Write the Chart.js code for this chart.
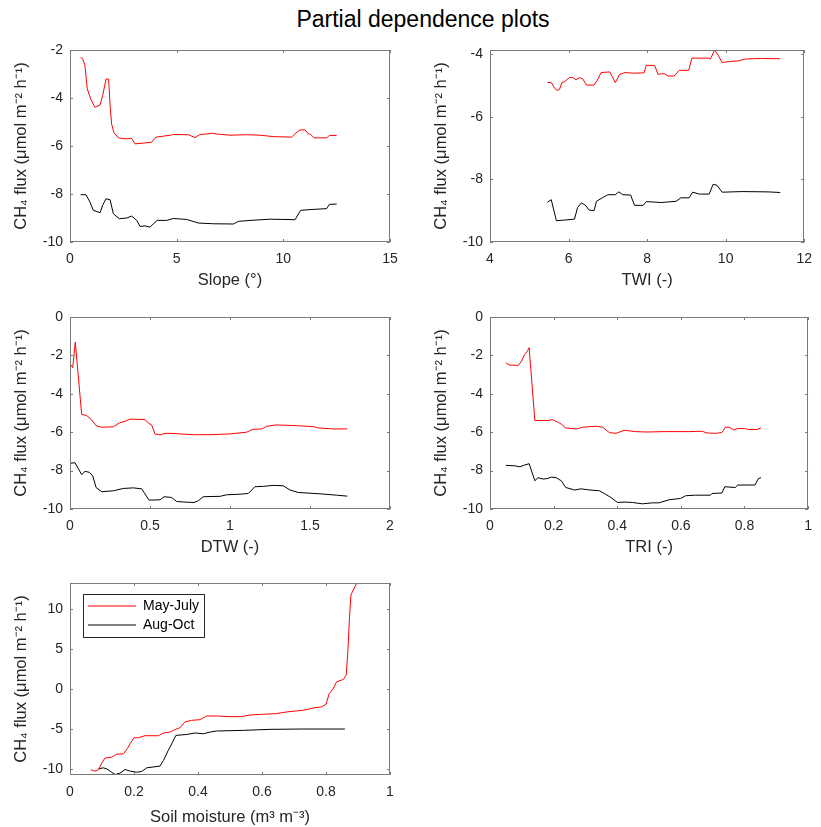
<!DOCTYPE html>
<html><head><meta charset="utf-8">
<script src="https://cdn.jsdelivr.net/npm/chart.js@4.4.1/dist/chart.umd.min.js"></script>
<style>
html,body{margin:0;padding:0;background:#fff;}
#fig{position:relative;width:821px;height:827px;overflow:hidden;background:#fff;font-family:"Liberation Sans",Arial,sans-serif;}
#title{position:absolute;left:0;width:846px;top:6px;text-align:center;font-size:23px;color:#000;}
canvas{position:absolute;}
</style></head><body>
<div id="fig">
<div id="title">Partial dependence plots</div>
<canvas id="c1" width="410" height="272" style="left:0px;top:30px;width:410px;height:272px"></canvas>
<canvas id="c2" width="401" height="272" style="left:420px;top:30px;width:401px;height:272px"></canvas>
<canvas id="c3" width="410" height="272" style="left:0px;top:297px;width:410px;height:272px"></canvas>
<canvas id="c4" width="401" height="272" style="left:420px;top:297px;width:401px;height:272px"></canvas>
<canvas id="c5" width="410" height="272" style="left:0px;top:563px;width:410px;height:272px"></canvas>
</div>
<script>
// ---------- data ----------
const seriesNames = ['May-July', 'Aug-Oct'];
const yAxisTitle = 'CH\u2084 flux (\u03BCmol m\u207B\u00B2 h\u207B\u00B9)';

// Slope
const slopeMayJulyX = [0.50,0.59,0.70,0.81,0.97,1.17,1.41,1.53,1.69,1.81,1.88,1.95,2.06,2.27,2.58,2.89,3.05,3.44,3.83,4.03,4.38,4.77,4.84,5.55,5.86,6.09,6.41,6.69,6.88,7.50,8.28,8.91,9.53,10.39,10.55,10.78,11.02,11.17,11.28,11.44,12.03,12.16,12.50];
const slopeMayJulyY = [-2.31,-2.35,-2.65,-3.62,-4.04,-4.39,-4.29,-3.90,-3.21,-3.21,-4.32,-5.08,-5.45,-5.66,-5.70,-5.69,-5.91,-5.88,-5.84,-5.63,-5.59,-5.54,-5.52,-5.53,-5.65,-5.52,-5.50,-5.47,-5.50,-5.55,-5.53,-5.55,-5.61,-5.63,-5.49,-5.33,-5.33,-5.49,-5.52,-5.66,-5.66,-5.56,-5.56];
const slopeAugOctX = [0.50,0.75,0.94,1.09,1.41,1.53,1.69,1.88,2.03,2.31,2.66,2.89,3.13,3.28,3.52,3.75,3.91,4.09,4.53,4.84,5.47,6.02,6.72,7.66,7.89,8.44,9.38,10.55,10.81,11.25,12.03,12.16,12.50];
const slopeAugOctY = [-8.03,-8.03,-8.34,-8.68,-8.78,-8.47,-8.20,-8.24,-8.82,-9.03,-9.00,-8.92,-9.10,-9.35,-9.33,-9.38,-9.24,-9.10,-9.10,-9.02,-9.06,-9.21,-9.24,-9.25,-9.14,-9.10,-9.05,-9.07,-8.68,-8.65,-8.61,-8.43,-8.42];
const slopeTicks = [0,5,10,15];
const slopeFluxTicks = [-10,-8,-6,-4,-2];
const slopeFluxRange = [-10,-2];

// TWI
const twiMayJulyX = [5.46,5.56,5.65,5.71,5.77,5.83,5.90,6.02,6.11,6.19,6.27,6.36,6.46,6.65,6.73,6.83,7.05,7.19,7.30,7.44,7.65,7.92,7.98,8.19,8.28,8.36,8.44,8.53,8.69,8.82,9.06,9.14,9.57,9.61,9.72,9.82,9.91,10.07,10.32,10.49,10.91,11.39];
const twiMayJulyY = [-4.91,-4.91,-5.10,-5.16,-5.13,-4.91,-4.88,-4.75,-4.75,-4.82,-4.75,-4.79,-4.99,-4.99,-4.84,-4.59,-4.57,-4.91,-4.65,-4.59,-4.61,-4.60,-4.36,-4.36,-4.65,-4.63,-4.63,-4.70,-4.70,-4.52,-4.52,-4.13,-4.13,-4.16,-3.87,-4.06,-4.27,-4.24,-4.22,-4.16,-4.14,-4.15];
const twiAugOctX = [5.46,5.56,5.69,5.90,6.15,6.23,6.33,6.44,6.52,6.65,6.71,6.86,7.00,7.19,7.28,7.38,7.58,7.68,7.90,7.98,8.36,8.74,8.86,9.07,9.16,9.33,9.58,9.68,9.78,9.91,10.41,11.08,11.39];
const twiAugOctY = [-8.73,-8.65,-9.32,-9.30,-9.27,-8.90,-8.75,-8.84,-8.98,-9.00,-8.70,-8.59,-8.49,-8.49,-8.40,-8.49,-8.50,-8.83,-8.83,-8.71,-8.74,-8.70,-8.59,-8.59,-8.41,-8.47,-8.47,-8.16,-8.19,-8.41,-8.39,-8.40,-8.42];
const twiTicks = [4,6,8,10,12];
const twiFluxTicks = [-10,-8,-6,-4];
const twiFluxRange = [-10,-3.87];

// DTW
const dtwMayJulyX = [0,0.017,0.033,0.073,0.104,0.135,0.163,0.198,0.271,0.308,0.344,0.375,0.469,0.490,0.510,0.531,0.563,0.594,0.625,0.688,0.771,0.875,1.0,1.104,1.142,1.198,1.229,1.29,1.417,1.521,1.552,1.646,1.733];
const dtwMayJulyY = [-2.43,-2.64,-1.31,-5.08,-5.13,-5.36,-5.66,-5.74,-5.72,-5.52,-5.43,-5.32,-5.34,-5.53,-5.62,-6.09,-6.14,-6.06,-6.06,-6.09,-6.13,-6.13,-6.09,-6.00,-5.85,-5.83,-5.69,-5.62,-5.66,-5.71,-5.78,-5.83,-5.83];
const dtwAugOctX = [0,0.031,0.073,0.094,0.121,0.142,0.163,0.198,0.271,0.333,0.396,0.448,0.469,0.494,0.563,0.588,0.635,0.667,0.719,0.775,0.802,0.833,0.938,0.979,1.063,1.115,1.156,1.208,1.271,1.333,1.375,1.427,1.563,1.667,1.733];
const dtwAugOctY = [-7.62,-7.59,-8.21,-8.04,-8.09,-8.27,-8.88,-9.10,-9.05,-8.93,-8.90,-8.95,-9.22,-9.54,-9.52,-9.36,-9.40,-9.61,-9.64,-9.66,-9.57,-9.36,-9.34,-9.26,-9.23,-9.19,-8.84,-8.82,-8.77,-8.79,-9.01,-9.14,-9.21,-9.28,-9.33];
const dtwTicks = [0,0.5,1,1.5,2];
const dtwFluxTicks = [-10,-8,-6,-4,-2,0];
const dtwFluxRange = [-10,0];

// TRI
const triMayJulyX = [0.050,0.060,0.089,0.099,0.109,0.117,0.123,0.141,0.182,0.196,0.214,0.224,0.238,0.271,0.292,0.333,0.354,0.375,0.396,0.422,0.458,0.490,0.552,0.625,0.667,0.682,0.708,0.729,0.740,0.752,0.766,0.779,0.800,0.813,0.839,0.852];
const triMayJulyY = [-2.38,-2.50,-2.52,-2.30,-1.95,-1.79,-1.60,-5.39,-5.39,-5.34,-5.48,-5.58,-5.78,-5.83,-5.74,-5.69,-5.74,-6.02,-6.06,-5.90,-5.97,-5.99,-5.97,-5.97,-5.95,-6.04,-6.06,-6.02,-5.74,-5.74,-5.88,-5.81,-5.81,-5.86,-5.86,-5.78];
const triAugOctX = [0.050,0.078,0.094,0.109,0.123,0.141,0.151,0.167,0.182,0.193,0.208,0.224,0.238,0.266,0.286,0.313,0.344,0.359,0.380,0.401,0.422,0.448,0.479,0.510,0.531,0.563,0.599,0.615,0.646,0.693,0.698,0.729,0.738,0.771,0.779,0.833,0.844,0.852];
const triAugOctY = [-7.73,-7.75,-7.80,-7.71,-7.64,-8.53,-8.37,-8.44,-8.41,-8.34,-8.37,-8.53,-8.88,-9.01,-8.95,-9.01,-9.05,-9.19,-9.40,-9.66,-9.64,-9.66,-9.73,-9.68,-9.68,-9.52,-9.45,-9.31,-9.28,-9.28,-9.19,-9.17,-8.84,-8.88,-8.75,-8.75,-8.41,-8.37];
const triTicks = [0,0.2,0.4,0.6,0.8,1];
const triFluxTicks = [-10,-8,-6,-4,-2,0];
const triFluxRange = [-10,0];

// Soil moisture
const smMayJulyX = [0.065,0.078,0.089,0.099,0.109,0.130,0.146,0.167,0.179,0.188,0.200,0.214,0.234,0.276,0.292,0.313,0.328,0.344,0.359,0.380,0.406,0.427,0.458,0.500,0.536,0.563,0.604,0.646,0.677,0.729,0.760,0.786,0.800,0.810,0.823,0.833,0.854,0.863,0.868,0.873,0.878,0.896,0.917];
const smMayJulyY = [-10.10,-10.27,-10.10,-9.27,-8.64,-8.52,-8.14,-8.10,-7.46,-6.83,-6.08,-6.08,-5.83,-5.83,-5.49,-5.37,-5.07,-4.82,-4.11,-3.90,-3.82,-3.36,-3.36,-3.44,-3.44,-3.23,-3.14,-3.06,-2.85,-2.64,-2.35,-2.22,-1.89,-0.55,0.08,0.92,1.22,1.76,4.48,8.68,11.82,13.30,13.30];
const smAugOctX = [0.089,0.104,0.115,0.130,0.141,0.156,0.172,0.188,0.208,0.224,0.240,0.281,0.292,0.307,0.318,0.331,0.365,0.390,0.417,0.438,0.458,0.542,0.625,0.729,0.859];
const smAugOctY = [-9.98,-9.85,-9.98,-10.40,-10.69,-10.52,-10.06,-10.27,-10.40,-10.31,-9.85,-9.64,-8.93,-7.67,-6.83,-5.79,-5.67,-5.49,-5.58,-5.37,-5.24,-5.16,-5.03,-4.99,-4.99];
const smTicks = [0,0.2,0.4,0.6,0.8,1];
const smFluxTicks = [-10,-5,0,5,10];
const smFluxRange = [-10.75,13.3];

// ---------- drawing ----------
const FONT = '"Liberation Sans", Arial, Helvetica, sans-serif';
const TXT = '#262626';
const FRAME = '#7a7a7a';
Chart.defaults.font.family = FONT;

const pts = (xs, ys) => xs.map((x, i) => ({x: x, y: ys[i]}));

const framePlugin = {
  id: 'matlabFrame',
  beforeDraw(chart) {
    const lg = chart.legend;
    if (lg && chart.options.plugins.legend.display) {
      lg.left = chart.chartArea.left + 13;
      lg.top = chart.chartArea.top + 11;
    }
  },
  afterDraw(chart) {
    const {ctx, chartArea: {left, right, top, bottom}, scales: {x, y}} = chart;
    ctx.save();
    ctx.strokeStyle = FRAME;
    ctx.lineWidth = 1;
    ctx.beginPath();
    const L = 3;
    x.ticks.forEach(t => {
      const px = Math.round(x.getPixelForValue(t.value)) + 0.5;
      ctx.moveTo(px, bottom); ctx.lineTo(px, bottom - L);
      ctx.moveTo(px, top); ctx.lineTo(px, top + L);
    });
    y.ticks.forEach(t => {
      const py = Math.round(y.getPixelForValue(t.value)) + 0.5;
      ctx.moveTo(left, py); ctx.lineTo(left + L, py);
      ctx.moveTo(right, py); ctx.lineTo(right - L, py);
    });
    ctx.stroke();
    ctx.strokeRect(Math.round(left) + 0.5, Math.round(top) + 0.5, Math.round(right - left) - 1, Math.round(bottom - top) - 1);
    const lg = chart.legend;
    if (lg && chart.options.plugins.legend.display && lg.columnSizes && lg.columnSizes.length) {
      const pad = chart.options.plugins.legend.labels.padding;
      const fs = chart.options.plugins.legend.labels.font.size;
      const n = lg.legendItems.length;
      const w = lg.columnSizes[0].width + 2 * pad;
      const h = n * (fs + pad) + pad;
      ctx.strokeStyle = '#262626';
      ctx.strokeRect(Math.round(lg.left) + 0.5, Math.round(lg.top) + 0.5, Math.round(w), Math.round(h));
    }
    ctx.restore();
  }
};

function makePanel(id, p) {
  const canvas = document.getElementById(id);
  const datasets = [
    {label: seriesNames[0], data: pts(p.redX, p.redY), borderColor: '#ff0000', backgroundColor: '#ff0000'},
    {label: seriesNames[1], data: pts(p.blackX, p.blackY), borderColor: '#000000', backgroundColor: '#000000'}
  ].map(d => Object.assign(d, {borderWidth: 1, pointRadius: 0, tension: 0, fill: false}));
  return new Chart(canvas, {
    type: 'line',
    data: {datasets: datasets},
    options: {
      responsive: false,
      animation: false,
      devicePixelRatio: 1,
      events: [],
      layout: {padding: {top: 20, right: p.rightPad, left: 0, bottom: 0}},
      plugins: {
        title: {display: false},
        tooltip: {enabled: false},
        legend: {
          display: !!p.legend,
          position: 'chartArea',
          align: 'start',
          labels: {
            usePointStyle: true,
            pointStyle: 'line',
            pointStyleWidth: 48,
            boxHeight: 2,
            padding: 5,
            color: '#000',
            font: {size: 14, family: FONT}
          }
        }
      },
      scales: {
        x: {
          type: 'linear',
          min: p.xTicks[0], max: p.xTicks[p.xTicks.length - 1],
          grid: {display: false, drawTicks: false},
          border: {display: false},
          afterBuildTicks: s => { s.ticks = p.xTicks.map(v => ({value: v})); },
          afterFit: s => { s.height = 60; },
          ticks: {padding: 9, color: TXT, font: {size: 14}, maxRotation: 0, autoSkip: false, callback: v => String(v)},
          title: {display: true, text: p.xTitle, color: TXT, font: {size: 16.5}, padding: {top: 0, bottom: p.xTitlePad || 12}}
        },
        y: {
          type: 'linear',
          min: p.yRange[0], max: p.yRange[1],
          grid: {display: false, drawTicks: false},
          border: {display: false},
          afterBuildTicks: s => { s.ticks = p.yTicks.map(v => ({value: v})); },
          afterFit: s => { s.width = 70; },
          ticks: {padding: 7, color: TXT, font: {size: 14}, autoSkip: false, callback: v => String(v)},
          title: {display: true, text: yAxisTitle, color: TXT, font: {size: 16.5}, padding: {top: 12, bottom: 0}}
        }
      }
    },
    plugins: [framePlugin]
  });
}

makePanel('c1', {redX: slopeMayJulyX, redY: slopeMayJulyY, blackX: slopeAugOctX, blackY: slopeAugOctY,
  xTicks: slopeTicks, yTicks: slopeFluxTicks, yRange: slopeFluxRange, xTitle: 'Slope (\u00B0)', rightPad: 20});
makePanel('c2', {redX: twiMayJulyX, redY: twiMayJulyY, blackX: twiAugOctX, blackY: twiAugOctY,
  xTicks: twiTicks, yTicks: twiFluxTicks, yRange: twiFluxRange, xTitle: 'TWI (-)', rightPad: 11});
makePanel('c3', {redX: dtwMayJulyX, redY: dtwMayJulyY, blackX: dtwAugOctX, blackY: dtwAugOctY,
  xTicks: dtwTicks, yTicks: dtwFluxTicks, yRange: dtwFluxRange, xTitle: 'DTW (-)', rightPad: 20});
makePanel('c4', {redX: triMayJulyX, redY: triMayJulyY, blackX: triAugOctX, blackY: triAugOctY,
  xTicks: triTicks, yTicks: triFluxTicks, yRange: triFluxRange, xTitle: 'TRI (-)', rightPad: 11});
makePanel('c5', {redX: smMayJulyX, redY: smMayJulyY, blackX: smAugOctX, blackY: smAugOctY,
  xTicks: smTicks, yTicks: smFluxTicks, yRange: smFluxRange, xTitle: 'Soil moisture (m\u00B3 m\u207B\u00B3)', rightPad: 20, legend: true, xTitlePad: 8});
</script>
</body></html>
